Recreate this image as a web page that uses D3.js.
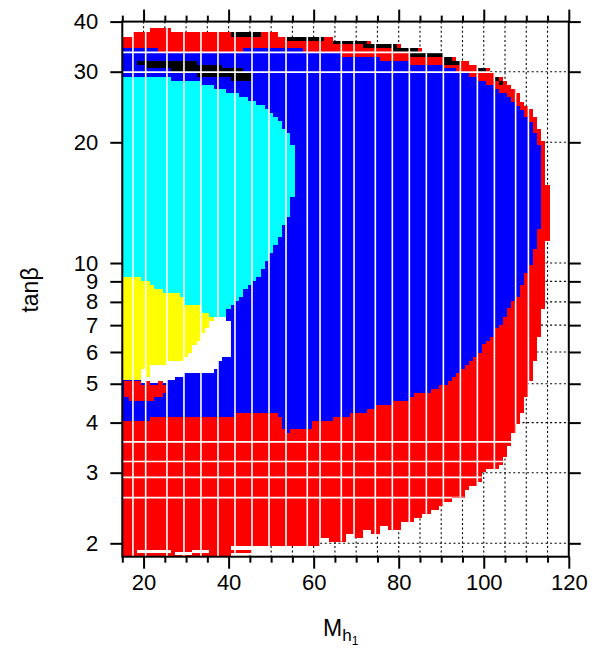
<!DOCTYPE html>
<html><head><meta charset="utf-8">
<script src="https://cdn.jsdelivr.net/npm/d3@7"></script>
<style>
body{margin:0;background:#fff}
svg{display:block}
text{font-family:"Liberation Sans",Arial,Helvetica,sans-serif}
</style>
</head><body>
<svg id="c" width="595" height="648"></svg>
<script>
// ---- axis data ----
const xDomain = [15, 120];
const yDomain = [1.852, 40];
const xMajorTicks = [20, 40, 60, 80, 100, 120];
const xMinorTicks = [15, 25, 30, 35, 45, 50, 55, 65, 70, 75, 85, 90, 95, 105, 110, 115];
const xGrid = [20, 25, 30, 35, 40, 45, 50, 55, 60, 65, 70, 75, 80, 85, 90, 95, 100, 105, 110, 115];
const yTicks = [2, 3, 4, 5, 6, 7, 8, 9, 10, 20, 30, 40];
const yGrid = [2, 3, 4, 5, 6, 7, 8, 9, 10, 20, 30];

// ---- region boundaries [M_h1, tanBeta] ----
const allowedRegion = [
[15,36.68],[17.5,36.68],[17.5,37.69],[21.5,37.69],[21.5,38.56],[26.5,38.56],[26.5,37.69],[51.5,37.69],[51.5,36.68],[64.5,36.68],[64.5,35.84],[73.5,35.84],[73.5,35.17],[80.5,35.17],[80.5,34.43],[85.5,34.43],[85.5,33.34],[90.5,33.34],[90.5,32.69],[93.5,32.69],[93.5,31.9],[96.5,31.9],[96.5,31.18],[98.5,31.18],[98.5,30.70],[101.5,30.70],[101.5,29.95],[102.5,29.95],[102.5,29.15],[104.5,29.15],[104.5,28.44],[105.5,28.44],[105.5,27.80],[106.5,27.80],[106.5,27.16],[107.5,27.16],[107.5,26.55],[108.5,26.55],[108.5,25.25],[109.5,25.25],[109.5,24.64],[110.5,24.64],[110.5,24.22],[111.5,24.22],[111.5,23.13],[112.5,23.13],[112.5,21.59],[113.5,21.59],[113.5,20.15],[114.5,20.15],[114.5,15.65],[115.5,15.65],[115.5,11.34],[114.5,11.34],[114.5,7.68],[113.5,7.68],[113.5,6.54],[112.5,6.54],[112.5,5.70],[111.5,5.70],[111.5,5.08],[110.5,5.08],[110.5,4.63],[109.5,4.63],[109.5,4.23],[108.5,4.23],[108.5,3.97],[107.5,3.97],[107.5,3.77],[106.5,3.77],[106.5,3.50],[105.5,3.50],[105.5,3.28],[104.5,3.28],[104.5,3.14],[103.5,3.14],[103.5,3.06],[100.5,3.06],[100.5,3.01],[99.5,3.01],[99.5,2.85],[98.5,2.85],[98.5,2.78],[96.5,2.78],[96.5,2.72],[95.5,2.72],[95.5,2.60],[92.5,2.60],[92.5,2.54],[90.5,2.54],[90.5,2.48],[89.5,2.48],[89.5,2.42],[87.5,2.42],[87.5,2.37],[85.5,2.37],[85.5,2.31],[83.5,2.31],[83.5,2.26],[80.5,2.26],[80.5,2.16],[77.5,2.16],[77.5,2.21],[75.5,2.21],[75.5,2.11],[73.5,2.11],[73.5,2.16],[71.5,2.16],[71.5,2.06],[69.5,2.06],[69.5,2.11],[67.5,2.11],[67.5,2.02],[63.5,2.02],[63.5,2.06],[61.5,2.06],[61.5,1.97],[48.5,1.97],[48.5,1.92],[45.5,1.92],[45.5,1.89],[40.5,1.89],[40.5,1.852],[15,1.852]
];
const bottomHoles = [
[18.5,26.5,1.89,1.92],[27.5,31.5,1.87,1.90],[31.5,35.5,1.89,1.92],[40.5,48.5,1.92,1.97]
];
const blueRegion = [
[15,34.43],[23.5,34.43],[23.5,33.65],[43.5,33.65],[43.5,34.43],[57.5,34.43],[57.5,33.53],[66.5,33.53],[66.5,32.69],[75.5,32.69],[75.5,31.96],[82.5,31.96],[82.5,31.18],[90.5,31.18],[90.5,30.70],[93.5,30.70],[93.5,29.95],[96.5,29.95],[96.5,29.15],[98.5,29.15],[98.5,28.44],[100.5,28.44],[100.5,27.80],[102.5,27.80],[102.5,27.16],[103.5,27.16],[103.5,26.55],[105.5,26.55],[105.5,25.94],[106.5,25.94],[106.5,25.25],[107.5,25.25],[107.5,24.64],[108.5,24.64],[108.5,24.08],[109.5,24.08],[109.5,23.13],[110.5,23.13],[110.5,22.48],[111.5,22.48],[111.5,21.10],[112.5,21.10],[112.5,19.70],[113.5,19.70],
[113.5,12.16],[112.5,12.16],[112.5,10.84],[111.5,10.84],[111.5,9.89],[110.5,9.89],[110.5,9.44],[109.5,9.44],[109.5,8.81],[108.5,8.81],[108.5,8.24],[107.5,8.24],[107.5,8.04],[106.5,8.04],[106.5,7.72],[105.5,7.72],[105.5,7.34],[104.5,7.34],[104.5,7.00],[103.5,7.00],[103.5,6.88],[102.5,6.88],[102.5,6.54],[101.5,6.54],[101.5,6.39],[100.5,6.39],[100.5,6.28],[99.5,6.28],[99.5,5.97],[98.5,5.97],[98.5,5.83],[97.5,5.83],[97.5,5.70],[96.5,5.70],[96.5,5.57],[95.5,5.57],[95.5,5.44],[94.5,5.44],[94.5,5.32],[93.5,5.32],[93.5,5.20],[92.5,5.20],[92.5,5.08],[91.5,5.08],[91.5,4.96],[89.5,4.96],[89.5,4.85],[87.5,4.85],[87.5,4.74],[83.5,4.74],[83.5,4.63],[82.5,4.63],[82.5,4.53],[78.5,4.53],[78.5,4.43],[74.5,4.43],[74.5,4.33],[72.5,4.33],[72.5,4.23],[68.5,4.23],[68.5,4.13],[64.5,4.13],[64.5,4.04],[59.5,4.04],[59.5,3.86],[54.5,3.86],[54.5,3.77],[53.5,3.77],[53.5,3.86],[52.5,3.86],[52.5,4.13],[51.5,4.13],[51.5,4.23],[41.5,4.23],[41.5,4.13],[21.5,4.13],[21.5,4.04],[15,4.04]
];
const cyanRegion = [
[15,29.15],[26.5,29.15],[26.5,28.49],[33.5,28.49],[33.5,27.80],[36.5,27.80],[36.5,27.16],[39.5,27.16],[39.5,26.59],[42.5,26.59],[42.5,25.99],[44.5,25.99],[44.5,25.40],[46.5,25.40],[46.5,24.78],[48.5,24.78],[48.5,24.22],[49.5,24.22],[49.5,23.71],[50.5,23.71],[50.5,23.17],[51.5,23.17],[51.5,22.61],[52.5,22.61],[52.5,21.59],[53.5,21.59],[53.5,21.06],[54.5,21.06],[54.5,19.70],[55.5,19.70],[55.5,14.63],[54.5,14.63],[54.5,13.05],[53.5,13.05],[53.5,12.44],[52.5,12.44],[52.5,11.63],[51.5,11.63],[51.5,11.09],[50.5,11.09],[50.5,10.61],[49.5,10.61],[49.5,10.12],[48.5,10.12],[48.5,9.66],[47.5,9.66],[47.5,9.25],[46.5,9.25],[46.5,9.04],[45.5,9.04],[45.5,8.81],[44.5,8.81],[44.5,8.61],[43.5,8.61],[43.5,8.24],[42.5,8.24],[42.5,8.04],[41.5,8.04],[41.5,7.86],[40.5,7.86],[40.5,7.68],[39.5,7.68],[39.5,7.35],[15,7.35]
];
const whiteRegion = [
[36.5,7.35],[39.5,7.35],[39.5,7.17],[40.5,7.17],[40.5,5.84],[38.5,5.84],[38.5,5.70],[37.5,5.70],[37.5,5.44],[36.5,5.44],[36.5,5.31],[29.5,5.31],[29.5,5.21],[27.5,5.21],[27.5,5.11],[25.5,5.11],[25.5,5.02],[19.5,5.02],[19.5,7.35]
];
const yellowRegion = [
[15,9.25],[19.5,9.25],[19.5,9.04],[21.5,9.04],[21.5,8.81],[22.5,8.81],[22.5,8.61],[24.5,8.61],[24.5,8.42],[28.5,8.42],[28.5,8.24],[29.5,8.24],[29.5,7.86],[33.5,7.86],[33.5,7.52],[35.5,7.52],[35.5,7.35],[36.5,7.35],[36.5,7.17],[35.5,7.17],[35.5,6.88],[34.5,6.88],[34.5,6.70],[33.5,6.70],[33.5,6.40],[32.5,6.40],[32.5,6.25],[31.5,6.25],[31.5,5.97],[30.5,5.97],[30.5,5.84],[29.5,5.84],[29.5,5.70],[25.5,5.70],[25.5,5.57],[21.5,5.57],[21.5,5.21],[20.5,5.21],[20.5,5.44],[19.5,5.44],[19.5,5.11],[15,5.11]
];
const redBlob = [
[15.5,5.08],[19.5,5.08],[19.5,4.96],[20.5,4.96],[20.5,5.08],[21.5,5.08],[21.5,4.96],[23.5,4.96],[23.5,5.08],[24.5,5.08],[24.5,4.96],[25.5,4.96],[25.5,4.74],[24.5,4.74],[24.5,4.63],[22.5,4.63],[22.5,4.53],[16.5,4.53],[16.5,4.63],[15.5,4.63]
];
// black cells [M0, M1, tanB0, tanB1]
const blackCells = [
[40.5,47.5,36.68,37.69],[53.5,62.5,35.84,36.68],[64.5,72.5,35.17,35.84],[71.5,79.5,34.43,35.17],[78.5,84.5,33.59,34.43],[82.5,90.5,32.64,33.34],[90.5,92.5,31.9,32.64],[90.5,94.5,31.18,31.9],[98.5,100.5,29.95,30.70],[102.5,103.5,28.44,29.15],[103.5,104.5,27.80,28.44],
[18.5,32.5,31.18,31.9],[20.5,38.5,30.65,31.18],[26.5,43.5,29.95,30.65],[32.5,45.5,29.10,29.95],[40.5,45.5,28.44,29.10]
];
// scan gaps (white lines through the coloured area)
const gapM = [17.5,20.5,25.5,29.5,33.5,37.5,41.5,45.5,49.5,53.5,58.5,61.5,66.5,69.5,74.5,78.5,82.5,86.5,90.5,94.5,98.5,102.5,107.5,110.5];
const gapTan = [33.53, 29.92, 3.58, 3.20, 2.92, 2.60];

// ---- scales ----
const x = d3.scaleLinear().domain(xDomain).range([122.3, 568.8]);
const y = d3.scaleLog().domain(yDomain).range([556.7, 21.6]);
const svg = d3.select("#c");
const line = d3.line().x(d => x(d[0])).y(d => y(d[1]));
const X0 = x(xDomain[0]), X1 = x(xDomain[1]), Y0 = y(yDomain[0]), Y1 = y(yDomain[1]);

// grid
const grid = svg.append("g").attr("stroke", "#000").attr("stroke-width", 1.1).attr("stroke-dasharray", "2,2.6");
grid.selectAll("line.v").data(xGrid).join("line").attr("class","v")
  .attr("x1", d => x(d)).attr("x2", d => x(d)).attr("y1", Y1).attr("y2", Y0);
grid.selectAll("line.h").data(yGrid).join("line").attr("class","h")
  .attr("x1", X0).attr("x2", X1).attr("y1", d => y(d)).attr("y2", d => y(d));

// regions
const regions = svg.append("g").attr("shape-rendering", "crispEdges");
regions.append("path").attr("d", line(allowedRegion) + "Z").attr("fill", "#ff0000");
regions.selectAll("rect.hole").data(bottomHoles).join("rect").attr("class","hole")
  .attr("x", d => x(d[0])).attr("width", d => x(d[1]) - x(d[0]))
  .attr("y", d => y(d[3])).attr("height", d => y(d[2]) - y(d[3])).attr("fill", "#fff");
regions.append("path").attr("d", line(blueRegion) + "Z").attr("fill", "#0000ff");
regions.append("path").attr("d", line(cyanRegion) + "Z").attr("fill", "#00ffff");
regions.append("path").attr("d", line(whiteRegion) + "Z").attr("fill", "#ffffff");
regions.append("path").attr("d", line(yellowRegion) + "Z").attr("fill", "#ffff00");
regions.append("path").attr("d", line(redBlob) + "Z").attr("fill", "#ff0000");
regions.selectAll("rect.blk").data(blackCells).join("rect").attr("class","blk")
  .attr("x", d => x(d[0])).attr("width", d => x(d[1]) - x(d[0]))
  .attr("y", d => y(d[3])).attr("height", d => y(d[2]) - y(d[3])).attr("fill", "#000");

// gap lines, clipped to the allowed region
svg.append("clipPath").attr("id", "clipA").append("path").attr("d", line(allowedRegion) + "Z");
const gaps = svg.append("g").attr("clip-path", "url(#clipA)").attr("stroke", "#fff").attr("stroke-width", 1.6);
gaps.selectAll("line.v").data(gapM).join("line").attr("class","v")
  .attr("x1", d => x(d)).attr("x2", d => x(d)).attr("y1", Y1).attr("y2", Y0);
gaps.selectAll("line.h").data(gapTan).join("line").attr("class","h")
  .attr("x1", X0).attr("x2", X1).attr("y1", d => y(d)).attr("y2", d => y(d));

// axes
function styleAxis(g){
  g.select(".domain").remove();
  g.selectAll(".tick line").attr("stroke", "#000").attr("stroke-width", 2);
  g.selectAll(".tick text").attr("font-size", 22).attr("fill", "#000")
    .style("font-family", '"Liberation Sans",Arial,sans-serif');
}
svg.append("g").attr("transform", `translate(0,${Y0})`)
  .call(d3.axisBottom(x).tickValues(xMajorTicks).tickSize(12).tickPadding(6).tickFormat(d3.format("d"))).call(styleAxis);
svg.append("g").attr("transform", `translate(0,${Y0})`)
  .call(d3.axisBottom(x).tickValues(xMinorTicks).tickSize(6).tickFormat("")).call(styleAxis);
svg.append("g").attr("transform", `translate(0,${Y1})`)
  .call(d3.axisTop(x).tickValues(xMajorTicks).tickSize(12).tickFormat("")).call(styleAxis);
svg.append("g").attr("transform", `translate(0,${Y1})`)
  .call(d3.axisTop(x).tickValues(xMinorTicks).tickSize(6).tickFormat("")).call(styleAxis);
svg.append("g").attr("transform", `translate(${X0},0)`)
  .call(d3.axisLeft(y).tickValues(yTicks).tickSize(12).tickPadding(12).tickFormat(d3.format("d"))).call(styleAxis);
svg.append("g").attr("transform", `translate(${X1},0)`)
  .call(d3.axisRight(y).tickValues(yTicks).tickSize(12).tickFormat("")).call(styleAxis);

// frame
svg.append("rect").attr("x", X0).attr("y", Y1).attr("width", X1 - X0).attr("height", Y0 - Y1)
  .attr("fill", "none").attr("stroke", "#000").attr("stroke-width", 2);

// axis titles
svg.append("text").attr("transform", "translate(38,290) rotate(-90)").attr("text-anchor", "middle")
  .attr("font-size", 23).text("tanβ");
const xt = svg.append("text").attr("x", 323).attr("y", 636).attr("font-size", 23);
xt.append("tspan").text("M");
xt.append("tspan").attr("font-size", 17).attr("dy", 5).text("h");
xt.append("tspan").attr("font-size", 12).attr("dy", 4).text("1");
</script>
</body></html>
